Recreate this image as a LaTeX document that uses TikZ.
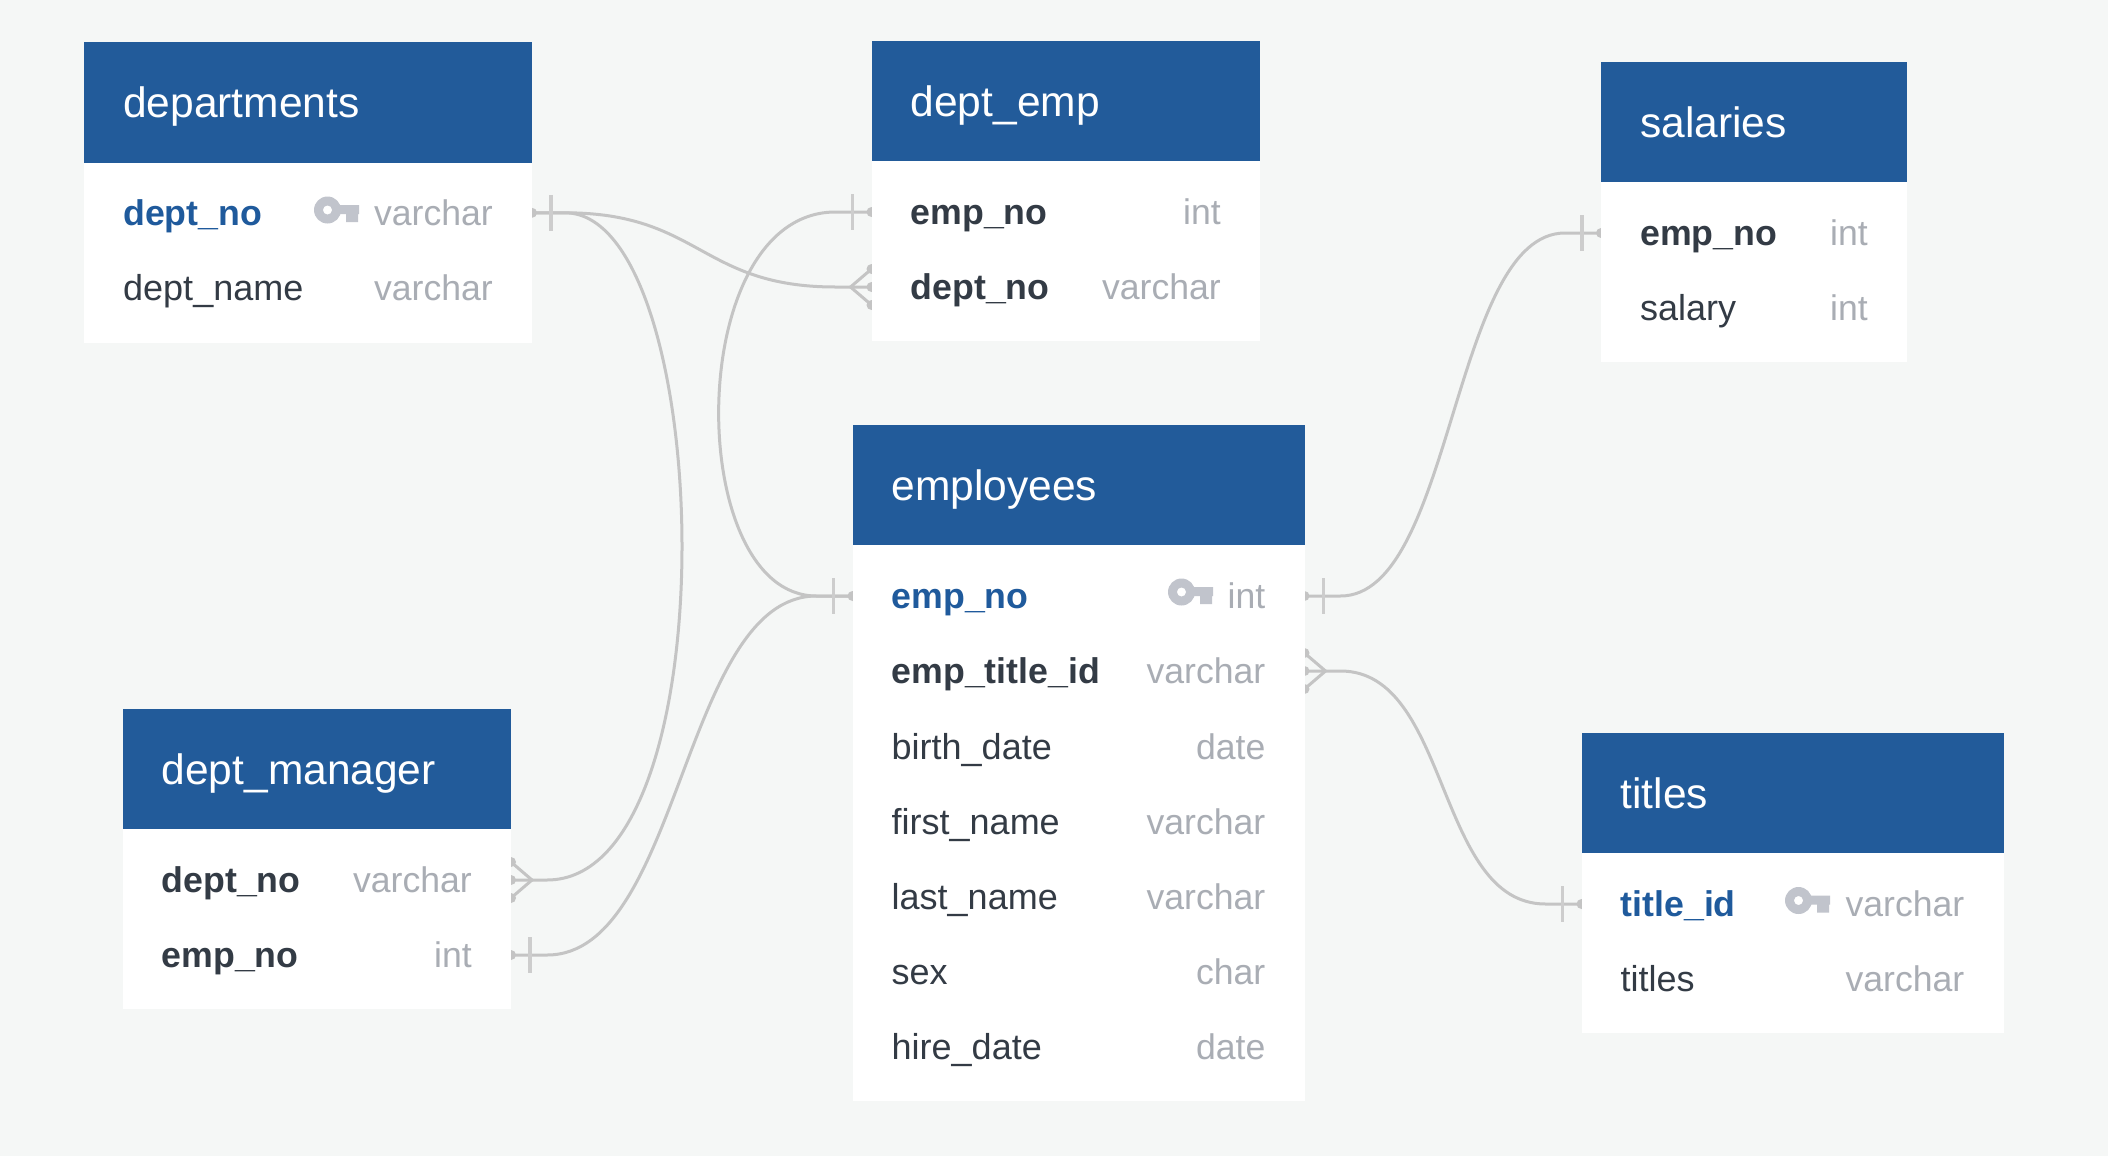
\documentclass[tikz,border=0pt]{standalone}
\usepackage{fontspec}
\setmainfont{Liberation Sans}
\usetikzlibrary{calc}
\pgfdeclarelayer{bg}
\pgfsetlayers{bg,main}
\definecolor{pagebg}{HTML}{F5F7F6}
\definecolor{hdrblue}{HTML}{225B9A}
\definecolor{keyblue}{HTML}{1F5A9C}
\definecolor{darktxt}{HTML}{333B45}
\definecolor{typetxt}{HTML}{A9ADB4}
\definecolor{keygrey}{HTML}{C1C4CC}
\definecolor{linegrey}{HTML}{C4C4C4}
\definecolor{bargrey}{HTML}{CDCDCD}
\tikzset{
  hdrbox/.style={fill=hdrblue,inner sep=0pt,outer sep=0pt,anchor=north west},
  bodybox/.style={fill=white,inner sep=0pt,outer sep=0pt,anchor=north west},
  rowbox/.style={inner sep=0pt,outer sep=0pt,minimum height=75pt},
  titletxt/.style={inner sep=0pt,anchor=base west,text=white,font=\fontsize{42.5}{48}\selectfont},
  nametxt/.style={inner sep=0pt,anchor=base west,text=darktxt,font=\fontsize{36}{40}\selectfont},
  boldtxt/.style={inner sep=0pt,anchor=base west,text=darktxt,font=\fontsize{35.7}{40}\selectfont\bfseries},
  pktxt/.style={inner sep=0pt,anchor=base west,text=keyblue,font=\fontsize{35.7}{40}\selectfont\bfseries},
  typetext/.style={inner sep=0pt,anchor=base east,text=typetxt,font=\fontsize{35.6}{40}\selectfont},
  conn/.style={draw=linegrey,line width=3pt},
  barmk/.style={draw=bargrey,line width=3.2pt},
}
% \tbl{id}{x0}{x1}{top}{bodyheight}{title}
\newcommand\tbl[6]{%
  \pgfmathsetmacro\tw{#3-#2}%
  \node[hdrbox,minimum width=\tw pt,minimum height=120pt] (#1-h) at (#2,#4) {};
  \node[bodybox,minimum width=\tw pt,minimum height=#5 pt] (#1-b) at ($(#2,#4)+(0,120)$) {};
  \node[titletxt] (#1-title) at ($(#2,#4)+(39,75)$) {#6};
}
% \trow{id}{x0}{x1}{y}{name style}{name}{type}
\newcommand\trow[7]{%
  \pgfmathsetmacro\tw{#3-#2}%
  \node[rowbox,anchor=west,minimum width=\tw pt] (#1) at (#2,#4) {};
  \node[#5] (#1-n) at ($(#2,#4)+(39,12.5)$) {#6};
  \node[typetext] (#1-t) at ($(#3,#4)+(-39,12.5)$) {#7};
}
\newcommand\keyicon[2]{%
  \begin{scope}[shift={(#1,#2)}]
    \fill[keygrey,even odd rule] (13.5,0) circle (13.5pt) (13.5,0) circle (4.6pt);
    \fill[keygrey] (20,-5) -- (45,-5) -- (45,4) -- (44,4) -- (44,12) -- (32,12) -- (32,4) -- (20,4) -- cycle;
  \end{scope}
}
\newcommand\onemk[2]{%
  \begin{scope}[shift={(#1)},xscale=#2]
    \draw[barmk] (19,-18) -- (19,18);
    \fill[linegrey] (0,0) circle (5pt);
  \end{scope}
}
\newcommand\crowmk[2]{%
  \begin{scope}[shift={(#1)},xscale=#2]
    \draw[conn,line join=round] (0,-18) -- (21,0) -- (0,18);
    \fill[linegrey] (0,0) circle (5pt);
    \fill[linegrey] (0,-18) circle (5pt);
    \fill[linegrey] (0,18) circle (5pt);
  \end{scope}
}
\begin{document}
\begin{tikzpicture}[x=1pt,y=-1pt]
\useasboundingbox (0,0) rectangle (2108,1156);
\begin{pgfonlayer}{bg}
  \fill[pagebg] (0,0) rectangle (2108,1156);
\end{pgfonlayer}

\tbl{dep}{84}{532}{42.5}{180}{departments}
\trow{dep-r1}{84}{532}{212.8}{pktxt}{dept\_no}{varchar}
\trow{dep-r2}{84}{532}{287.8}{nametxt}{dept\_name}{varchar}
\keyicon{314}{210}

\tbl{de}{871.5}{1260}{41}{180}{dept\_emp}
\trow{de-r1}{871.5}{1260}{212}{boldtxt}{emp\_no}{int}
\trow{de-r2}{871.5}{1260}{287}{boldtxt}{dept\_no}{varchar}

\tbl{sal}{1601}{1907}{62}{180}{salaries}
\trow{sal-r1}{1601}{1907}{233}{boldtxt}{emp\_no}{int}
\trow{sal-r2}{1601}{1907}{308}{nametxt}{salary}{int}

\tbl{emp}{852.5}{1304.5}{425}{555.5}{employees}
\trow{emp-r1}{852.5}{1304.5}{596}{pktxt}{emp\_no}{int}
\trow{emp-r2}{852.5}{1304.5}{671}{boldtxt}{emp\_title\_id}{varchar}
\trow{emp-r3}{852.5}{1304.5}{747}{nametxt}{birth\_date}{date}
\trow{emp-r4}{852.5}{1304.5}{822}{nametxt}{first\_name}{varchar}
\trow{emp-r5}{852.5}{1304.5}{897}{nametxt}{last\_name}{varchar}
\trow{emp-r6}{852.5}{1304.5}{972}{nametxt}{sex}{char}
\trow{emp-r7}{852.5}{1304.5}{1047}{nametxt}{hire\_date}{date}
\keyicon{1168}{592}

\tbl{dm}{122.5}{511}{709}{180}{dept\_manager}
\trow{dm-r1}{122.5}{511}{880}{boldtxt}{dept\_no}{varchar}
\trow{dm-r2}{122.5}{511}{955}{boldtxt}{emp\_no}{int}

\tbl{tit}{1581.5}{2003.5}{733}{180}{titles}
\trow{tit-r1}{1581.5}{2003.5}{904}{pktxt}{title\_id}{varchar}
\trow{tit-r2}{1581.5}{2003.5}{979}{nametxt}{titles}{varchar}
\keyicon{1785}{900.5}

\begin{pgfonlayer}{bg}
  \draw[conn] (dep-r1.east) -- ++(33,0) .. controls +(135,0) and +(-135,0) .. ($(de-r2.west)+(-36,0)$) -- (de-r2.west);
  \draw[conn] (dep-r1.east) -- ++(33,0) .. controls +(150,0) and +(186,0) .. ($(dm-r1.east)+(36,0)$) -- (dm-r1.east);
  \draw[conn] (de-r1.west) -- ++(-36,0) .. controls +(-153,0) and +(-133,0) .. ($(emp-r1.west)+(-36,0)$) -- (emp-r1.west);
  \draw[conn] (emp-r1.west) -- ++(-36,0) .. controls +(-134,0) and +(134,0) .. ($(dm-r2.east)+(36,0)$) -- (dm-r2.east);
  \draw[conn] (emp-r1.east) -- ++(36,0) .. controls +(113,0) and +(-113,0) .. ($(sal-r1.west)+(-36,0)$) -- (sal-r1.west);
  \draw[conn] (emp-r2.east) -- ++(36,0) .. controls +(110,0) and +(-110,0) .. ($(tit-r1.west)+(-36,0)$) -- (tit-r1.west);
  \onemk{dep-r1.east}{1}
  \onemk{de-r1.west}{-1}
  \crowmk{de-r2.west}{-1}
  \onemk{emp-r1.west}{-1}
  \onemk{emp-r1.east}{1}
  \crowmk{emp-r2.east}{1}
  \onemk{sal-r1.west}{-1}
  \onemk{tit-r1.west}{-1}
  \crowmk{dm-r1.east}{1}
  \onemk{dm-r2.east}{1}
\end{pgfonlayer}
\end{tikzpicture}
\end{document}
